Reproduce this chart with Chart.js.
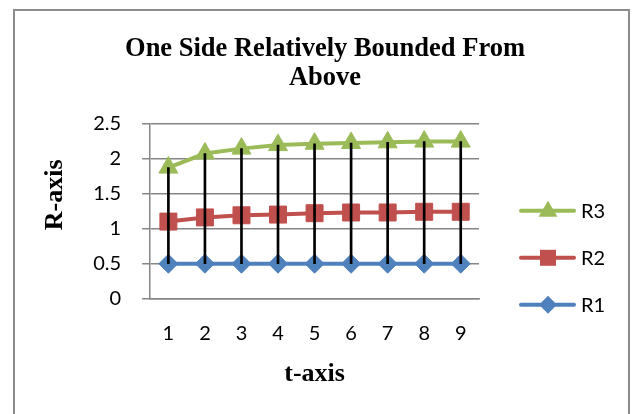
<!DOCTYPE html>
<html>
<head>
<meta charset="utf-8">
<script src="https://cdn.jsdelivr.net/npm/chart.js@4/dist/chart.umd.min.js"></script>
<style>
  html, body { margin: 0; padding: 0; background: #fff; }
  #wrap { position: relative; width: 635px; height: 414px; overflow: hidden; }
  #frame { position: absolute; left: 13px; top: 9px; width: 617px; height: 420px;
           border: 2px solid #8c8c8c; border-bottom: none; box-sizing: border-box; }
  #c { position: absolute; left: 0; top: 0; }
</style>
</head>
<body>
<div id="wrap">
  <div id="frame"></div>
  <canvas id="c" width="635" height="414"></canvas>
</div>
<script>
// t values along the horizontal axis
const categories = ['1', '2', '3', '4', '5', '6', '7', '8', '9'];
// series values
const r1 = [0.5, 0.5, 0.5, 0.5, 0.5, 0.5, 0.5, 0.5, 0.5];
const r2 = [1.10, 1.16, 1.19, 1.20, 1.22, 1.23, 1.23, 1.24, 1.24];
const r3 = [1.87, 2.07, 2.14, 2.19, 2.21, 2.22, 2.23, 2.24, 2.24];
// vertical axis ticks
const yTicks = [0, 0.5, 1, 1.5, 2, 2.5];

const BLUE = '#4F81BD', RED = '#C0504D', GREEN = '#9BBB59';
const TICK_FONT = { family: 'Lato', size: 20 };
const AXIS_TITLE_FONT = { family: 'Liberation Serif', size: 26, weight: 'bold' };

// high-low spans joining the lowest and highest series at each t
const spans = categories.map((_, i) => [Math.min(r1[i], r2[i], r3[i]), Math.max(r1[i], r2[i], r3[i])]);

// marker outline used by the legend swatches
function markerPath(g, shape, x, y) {
  g.beginPath();
  if (shape === 'triangle') {
    g.moveTo(x, y - 10); g.lineTo(x + 9.5, y + 6); g.lineTo(x - 9.5, y + 6); g.closePath();
  } else if (shape === 'rect') {
    g.rect(x - 8, y - 8, 16, 16);
  } else {
    g.moveTo(x, y - 9); g.lineTo(x + 9, y); g.lineTo(x, y + 9); g.lineTo(x - 9, y); g.closePath();
  }
}

// legend drawn as line + marker + label, stacked to the right of the plot
const sideLegend = {
  id: 'sideLegend',
  afterDraw(chart) {
    const { ctx, chartArea } = chart;
    const items = chart.data.datasets.filter(ds => ds.legendShape).slice().reverse();
    const x0 = chartArea.right + 42;
    ctx.save();
    items.forEach((ds, i) => {
      const y = chartArea.bottom - 88 + i * 47;
      ctx.strokeStyle = ds.borderColor; ctx.fillStyle = ds.borderColor;
      ctx.lineWidth = 4; ctx.lineCap = 'round';
      ctx.beginPath(); ctx.moveTo(x0, y); ctx.lineTo(x0 + 53, y); ctx.stroke();
      markerPath(ctx, ds.legendShape, x0 + 27, y);
      ctx.fill();
      ctx.fillStyle = '#000';
      ctx.font = `${TICK_FONT.size}px ${TICK_FONT.family}`;
      ctx.textBaseline = 'middle'; ctx.textAlign = 'left';
      ctx.fillText(ds.label, x0 + 60, y + 1);
    });
    ctx.restore();
  }
};

const lineDs = (label, data, color, style, radius, legendShape) => ({
  type: 'line', label, data, legendShape,
  borderColor: color, backgroundColor: color,
  borderWidth: 4, pointStyle: style, pointRadius: radius, pointHoverRadius: radius,
  pointBorderWidth: 1, tension: 0, order: 1
});

new Chart(document.getElementById('c'), {
  type: 'bar',
  data: {
    labels: categories,
    datasets: [
      { type: 'bar', label: 'hl', data: spans, backgroundColor: '#000', barThickness: 2, order: 0 },
      lineDs('R1', r1, BLUE, 'rectRot', 9.5, 'diamond'),
      lineDs('R2', r2, RED, 'rect', 12, 'rect'),
      lineDs('R3', r3, GREEN, 'triangle', 11, 'triangle')
    ]
  },
  plugins: [sideLegend],
  options: {
    responsive: false,
    animation: false,
    layout: { padding: { left: 40, right: 25, top: 20, bottom: 24 } },
    plugins: {
      tooltip: { enabled: false },
      legend: { display: false },
      title: {
        display: true,
        text: ['One Side Relatively Bounded From', 'Above'],
        font: { family: 'Liberation Serif', size: 26.5, weight: 'bold', lineHeight: 1.12 },
        color: '#000',
        padding: { top: 14, bottom: 30 }
      }
    },
    scales: {
      x: {
        offset: true,
        grid: { display: false, drawTicks: false },
        border: { display: true, color: '#868686', width: 1.5 },
        ticks: { color: '#000', font: TICK_FONT, padding: 23 },
        title: { display: true, text: 't-axis', color: '#000', font: AXIS_TITLE_FONT,
                 padding: { top: -10, bottom: 0 } }
      },
      y: {
        min: 0, max: 2.5,
        afterBuildTicks: s => { s.ticks = yTicks.map(v => ({ value: v })); },
        grid: { color: '#868686', lineWidth: 1.5, tickLength: 8, drawTicks: true },
        border: { display: true, color: '#868686', width: 1.5 },
        ticks: { color: '#000', font: TICK_FONT, padding: 21, callback: v => String(v) },
        // leading spaces lift the rotated title a little above the plot's centre
        title: { display: true, text: '\u00a0\u00a0\u00a0\u00a0\u00a0R-axis', color: '#000', font: AXIS_TITLE_FONT,
                 padding: { top: 0, bottom: 1 } }
      },
      // empty right-hand column that holds the legend
      legendSpace: {
        type: 'linear', position: 'right', display: true,
        grid: { display: false }, border: { display: false }, ticks: { display: false },
        afterFit: s => { s.width = 131; }
      }
    }
  }
});
</script>
</body>
</html>
